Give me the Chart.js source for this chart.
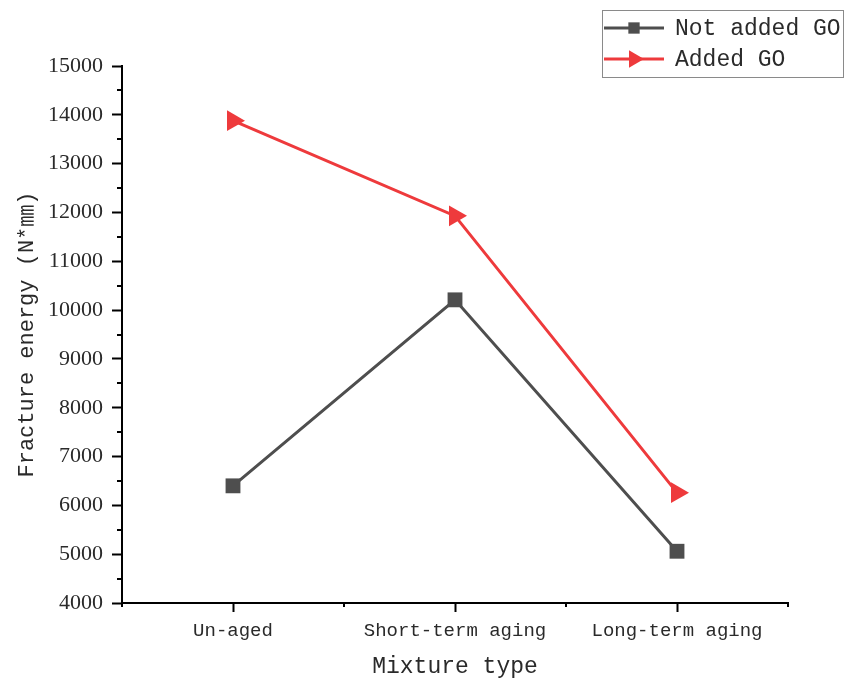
<!DOCTYPE html>
<html>
<head>
<meta charset="utf-8">
<script src="https://cdn.jsdelivr.net/npm/chart.js@4/dist/chart.umd.min.js"></script>
<style>
  html, body { margin: 0; padding: 0; background: #ffffff; }
  #wrap { width: 847px; height: 681px; }
</style>
</head>
<body>
<div id="wrap"><canvas id="c" width="847" height="681"></canvas></div>
<script>
// Fracture energy by mixture type, with and without graphene oxide (GO)
const categories = ['Un-aged', 'Short-term aging', 'Long-term aging'];
const notAddedGO = [6400, 10210, 5060];
const addedGO = [13880, 11930, 6260];
const yTickValues = [4000, 5000, 6000, 7000, 8000, 9000, 10000, 11000, 12000, 13000, 14000, 15000];
const yMinorTickValues = [4500, 5500, 6500, 7500, 8500, 9500, 10500, 11500, 12500, 13500, 14500];
const seriesNames = ['Not added GO', 'Added GO'];
const xTitle = 'Mixture type';
const yTitle = 'Fracture energy (N*\u339C)';

const GRAY = 'rgb(78,78,78)';
const RED = 'rgb(238,58,60)';
const TEXT = '#2a2a2a';
const MONO = '"Liberation Mono", "Noto Sans CJK SC", "DejaVu Sans Mono", monospace';
const SERIF = '"Liberation Serif", "DejaVu Serif", serif';

// Short minor ticks on both axes
const minorTicks = {
  id: 'minorTicks',
  afterDraw(chart) {
    const ctx = chart.ctx;
    const x = chart.scales.x, y = chart.scales.y;
    ctx.save();
    ctx.strokeStyle = '#000';
    ctx.lineWidth = 2;
    ctx.beginPath();
    yMinorTickValues.forEach(v => {
      const py = Math.round(y.getPixelForValue(v));
      ctx.moveTo(chart.chartArea.left - 5, py);
      ctx.lineTo(chart.chartArea.left, py);
    });
    for (let i = 0; i <= categories.length; i++) {
      const px = x.getPixelForValue(i - 0.5);
      ctx.moveTo(px, chart.chartArea.bottom);
      ctx.lineTo(px, chart.chartArea.bottom + 4);
    }
    ctx.stroke();
    ctx.restore();
  }
};

// Boxed legend with line-and-marker samples
const boxedLegend = {
  id: 'boxedLegend',
  afterDraw(chart) {
    const ctx = chart.ctx;
    const box = { x: 602.5, y: 10.5, w: 241, h: 67 };
    ctx.save();
    ctx.fillStyle = '#fff';
    ctx.fillRect(box.x, box.y, box.w, box.h);
    ctx.strokeStyle = '#8a8a8a';
    ctx.lineWidth = 1;
    ctx.strokeRect(box.x, box.y, box.w, box.h);
    const rows = [28, 59];
    chart.data.datasets.forEach((ds, i) => {
      const cy = rows[i];
      ctx.strokeStyle = ds.borderColor;
      ctx.lineWidth = 3;
      ctx.beginPath();
      ctx.moveTo(604, cy);
      ctx.lineTo(664, cy);
      ctx.stroke();
      ctx.fillStyle = ds.backgroundColor;
      Chart.helpers.drawPoint(ctx, {
        pointStyle: ds.pointStyle,
        radius: ds.pointStyle === 'rect' ? 8 : 10,
        rotation: ds.pointRotation || 0,
        borderWidth: 0
      }, 634, cy);
      ctx.fillStyle = TEXT;
      ctx.font = '23px ' + MONO;
      ctx.textBaseline = 'middle';
      ctx.textAlign = 'left';
      ctx.fillText(ds.label, 675, cy + 1);
    });
    ctx.restore();
  }
};

new Chart(document.getElementById('c'), {
  type: 'line',
  data: {
    labels: categories,
    datasets: [
      {
        label: seriesNames[0],
        data: notAddedGO,
        borderColor: GRAY,
        backgroundColor: GRAY,
        borderWidth: 3,
        pointStyle: 'rect',
        pointRadius: 10.5,
        pointHoverRadius: 10.5,
        pointBackgroundColor: GRAY,
        pointBorderColor: GRAY,
        pointBorderWidth: 0,
        tension: 0,
        clip: false
      },
      {
        label: seriesNames[1],
        data: addedGO,
        borderColor: RED,
        backgroundColor: RED,
        borderWidth: 3,
        pointStyle: 'triangle',
        pointRotation: 90,
        pointRadius: 12,
        pointHoverRadius: 12,
        pointBackgroundColor: RED,
        pointBorderColor: RED,
        pointBorderWidth: 0,
        tension: 0,
        clip: false
      }
    ]
  },
  options: {
    responsive: false,
    animation: false,
    layout: { padding: { top: 66, right: 59, bottom: 0, left: 0 } },
    plugins: {
      legend: { display: false },
      tooltip: { enabled: false }
    },
    scales: {
      x: {
        type: 'category',
        offset: true,
        afterFit(scale) { scale.height = 78; },
        border: { display: true, color: '#000', width: 2 },
        grid: { display: true, drawOnChartArea: false, drawTicks: true, tickLength: 9, tickColor: '#000', tickWidth: 2 },
        ticks: { color: TEXT, padding: 8, font: { family: MONO, size: 19 }, maxRotation: 0 },
        title: { display: true, text: xTitle, color: TEXT, font: { family: MONO, size: 23 }, padding: { top: 0, bottom: 0 } }
      },
      y: {
        min: 4000,
        max: 15000,
        afterFit(scale) { scale.width = 122; },
        afterBuildTicks(scale) { scale.ticks = yTickValues.map(v => ({ value: v })); },
        border: { display: true, color: '#000', width: 2 },
        grid: { display: true, drawOnChartArea: false, drawTicks: true, tickLength: 10, tickColor: '#000', tickWidth: 2 },
        ticks: {
          color: TEXT,
          padding: 9,
          font: { family: SERIF, size: 22 },
          callback: (value) => String(value)
        },
        title: { display: true, text: yTitle, color: TEXT, font: { family: MONO, size: 22 }, padding: { top: 14, bottom: 0 } }
      }
    }
  },
  plugins: [minorTicks, boxedLegend]
});
</script>
</body>
</html>
